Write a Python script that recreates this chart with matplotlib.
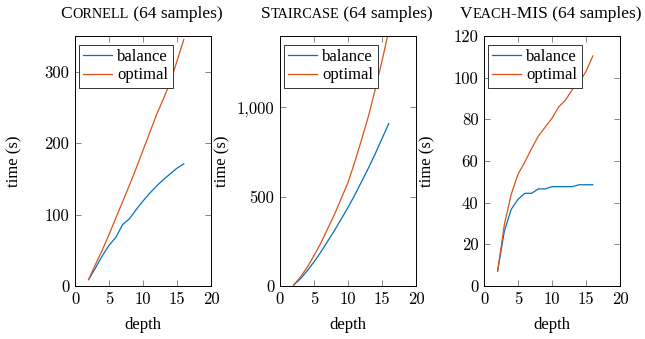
import matplotlib
matplotlib.use("Agg")
import matplotlib.pyplot as plt

# ---------------- data ----------------
depth = [2, 3, 4, 5, 6, 7, 8, 9, 10, 11, 12, 13, 14, 15, 16]

cornell_balance = [9, 25, 42, 57, 68, 86, 94, 107, 119, 130, 140, 149, 157, 165, 171]
cornell_optimal = [9, 30, 50, 72, 95, 118, 141, 165, 190, 215, 240, 262, 285, 315, 345]

staircase_balance = [5, 40, 85, 135, 190, 250, 310, 375, 440, 510, 585, 660, 740, 825, 910]
staircase_optimal = [5, 50, 105, 170, 240, 320, 400, 490, 580, 695, 820, 950, 1100, 1260, 1430]

veach_balance = [7.2, 26.4, 36.8, 41.6, 44.5, 44.5, 46.6, 46.6, 47.7, 47.7, 47.7, 47.7, 48.6, 48.6, 48.6]
veach_optimal = [7, 29.6, 44, 53.6, 59.5, 66, 72, 76.3, 80.5, 86, 89.3, 94.4, 97.6, 103, 110.4]

x_ticks = [0, 5, 10, 15, 20]
x_ticklabels = ["0", "5", "10", "15", "20"]
cornell_yticks = [0, 100, 200, 300]
cornell_yticklabels = ["0", "100", "200", "300"]
staircase_yticks = [0, 500, 1000]
staircase_yticklabels = ["0", "500", "1,000"]
veach_yticks = [0, 20, 40, 60, 80, 100, 120]
veach_yticklabels = ["0", "20", "40", "60", "80", "100", "120"]

series_labels = ["balance", "optimal"]
x_label = "depth"
y_label = "time (s)"
# title pieces: (text, is_small_caps)
titles = [
    [("C", False), ("ORNELL", True), (" (64 samples)", False)],
    [("S", False), ("TAIRCASE", True), (" (64 samples)", False)],
    [("V", False), ("EACH", True), ("-MIS (64 samples)", False)],
]

# ---------------- style ----------------
W, H = 645, 339
BLUE = "#0072BD"
ORANGE = "#D95319"
CM = "cmr10"
TIMES = "Liberation Serif"
FS = 12
TFS = 12.5

fig = plt.figure(figsize=(W / 100, H / 100), dpi=100)

ax_lefts = [75, 280, 484]
ax_w, ax_top, ax_bot = 136, 36, 286
ylims = [(0, 350), (0, 1400), (0, 120)]
yticks = [cornell_yticks, staircase_yticks, veach_yticks]
yticklabels = [cornell_yticklabels, staircase_yticklabels, veach_yticklabels]
balances = [cornell_balance, staircase_balance, veach_balance]
optimals = [cornell_optimal, staircase_optimal, veach_optimal]
ylabel_x = [14, 222, 427]
title_x0 = [60.7, 260.7, 460]

axes = []
for i in range(3):
    ax = fig.add_axes([ax_lefts[i] / W, (H - ax_bot) / H, ax_w / W, (ax_bot - ax_top) / H])
    axes.append(ax)
    ax.plot(depth, balances[i], color=BLUE, lw=0.9, label=series_labels[0])
    ax.plot(depth, optimals[i], color=ORANGE, lw=0.9, label=series_labels[1])
    ax.set_xlim(0, 20)
    ax.set_ylim(*ylims[i])
    ax.set_xticks(x_ticks)
    ax.set_xticklabels(x_ticklabels, fontfamily=CM, fontsize=FS)
    ax.set_yticks(yticks[i])
    ax.set_yticklabels(yticklabels[i], fontfamily=CM, fontsize=FS)
    ax.tick_params(direction="in", top=True, right=True, length=4, width=0.5,
                   color="#555555", pad=4)
    for s in ax.spines.values():
        s.set_linewidth(0.7)
        s.set_color("black")
    ax.set_xlabel(x_label, fontfamily=TIMES, fontsize=FS)
    ax.xaxis.set_label_coords(0.5, -0.125)
    ax.set_ylabel(y_label, fontfamily=TIMES, fontsize=FS, va="center")
    ax.yaxis.set_label_coords((ylabel_x[i] - ax_lefts[i]) / ax_w, 0.5)
    leg = ax.legend(loc="upper left", bbox_to_anchor=(0.03, 0.965), borderaxespad=0,
                    prop={"family": TIMES, "size": FS}, handlelength=1.75,
                    handletextpad=0.3, labelspacing=0.15, borderpad=0.25,
                    fancybox=False, framealpha=1, edgecolor="#333333")
    leg.get_frame().set_linewidth(0.7)

# titles with emulated small caps
renderer = fig.canvas.get_renderer()
baseline_y = 1 - 18 / H
for i, parts in enumerate(titles):
    x = title_x0[i]
    for text, sc in parts:
        t = fig.text(x / W, baseline_y, text, fontfamily=TIMES,
                     fontsize=TFS * 0.82 if sc else TFS, va="baseline", ha="left")
        bb = t.get_window_extent(renderer)
        x = bb.x1

fig.savefig("out.png", dpi=100)
